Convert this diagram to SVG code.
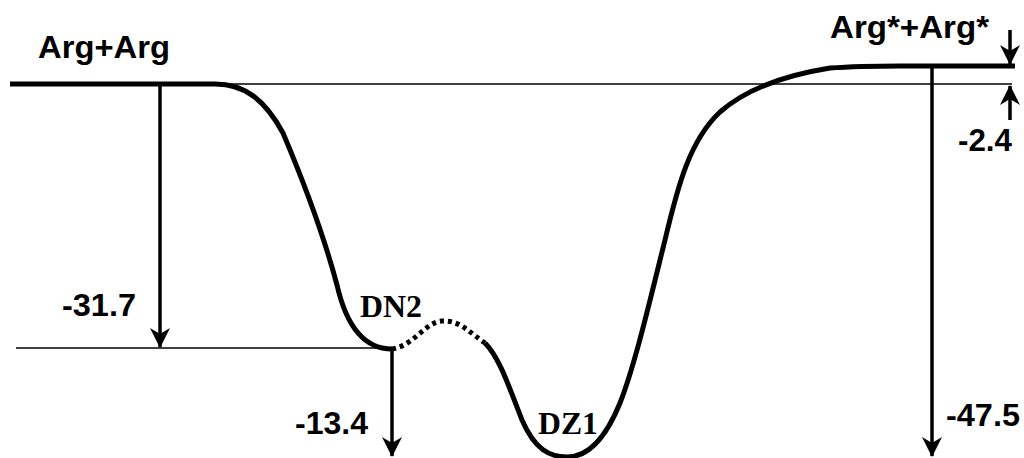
<svg xmlns="http://www.w3.org/2000/svg" width="1024" height="458" viewBox="0 0 1024 458">
<style>
.lbl{font-family:"Liberation Sans",Arial,sans-serif;font-weight:bold;font-size:32px;fill:#000}
.st{font-family:"Liberation Serif","Times New Roman",serif;font-weight:bold;font-size:31px;fill:#000}
.thin{stroke:#000;stroke-width:1.5;fill:none}
.curve{stroke:#000;stroke-width:5;fill:none;stroke-linecap:butt;stroke-linejoin:round}
.arr{stroke:#000;stroke-width:3.5;fill:none;marker-end:url(#ah)}
</style>
<defs>
<marker id="ah" markerUnits="userSpaceOnUse" viewBox="-21 -11 23 22" refX="0" refY="0" markerWidth="23" markerHeight="22" orient="auto">
<path d="M1,0 L-19,-10 L-13,0 L-19,10 Z" fill="#000"/>
</marker>
</defs>
<rect width="1024" height="458" fill="#fff"/>
<g id="reference-lines">
<line class="thin" x1="160" y1="84" x2="1012" y2="84"/>
<line class="thin" x1="16" y1="348" x2="392" y2="348"/>
</g>
<g id="energy-profile">
<path class="curve" d="M10,84 L215,84 C245,84 265,100 283,133 C305,185 325,240 337,285 C345,320 360,349 392,349"/>
<path class="curve" d="M392,349 C415,345 425,322 442,321 C460,320 470,333 485,343" stroke-dasharray="4 4"/>
<path class="curve" d="M485,343 C500,358 510,390 522,420 C535,450 550,457 567,457 C588,457 605,440 620,403 C635,365 650,300 665,240 C678,185 690,140 720,112 C745,90 780,76 830,68 C870,65 900,66 932,66 L1015,66"/>
</g>
<g id="connectors">
<line class="arr" x1="160" y1="84" x2="160" y2="347"/>
<line class="arr" x1="392" y1="349" x2="392" y2="456"/>
<line class="arr" x1="932" y1="66" x2="932" y2="456"/>
<line class="arr" x1="1010" y1="30" x2="1010" y2="64"/>
<line class="arr" x1="1010" y1="120" x2="1010" y2="86"/>
</g>
<g id="node-arg-arg"><text class="lbl" x="38" y="58" textLength="132" lengthAdjust="spacingAndGlyphs">Arg+Arg</text></g>
<g id="node-argstar"><text class="lbl" x="830" y="38" textLength="159" lengthAdjust="spacingAndGlyphs">Arg*+Arg*</text></g>
<g id="label-2-4"><text class="lbl" x="958" y="151" textLength="54" lengthAdjust="spacingAndGlyphs">-2.4</text></g>
<g id="label-31-7"><text class="lbl" x="62" y="316" textLength="74" lengthAdjust="spacingAndGlyphs">-31.7</text></g>
<g id="label-13-4"><text class="lbl" x="295" y="434" textLength="73" lengthAdjust="spacingAndGlyphs">-13.4</text></g>
<g id="label-47-5"><text class="lbl" x="946" y="426" textLength="74" lengthAdjust="spacingAndGlyphs">-47.5</text></g>
<g id="node-dn2"><text class="st" x="360" y="317" textLength="62" lengthAdjust="spacingAndGlyphs">DN2</text></g>
<g id="node-dz1"><text class="st" x="538" y="434" textLength="60" lengthAdjust="spacingAndGlyphs">DZ1</text></g>
</svg>
